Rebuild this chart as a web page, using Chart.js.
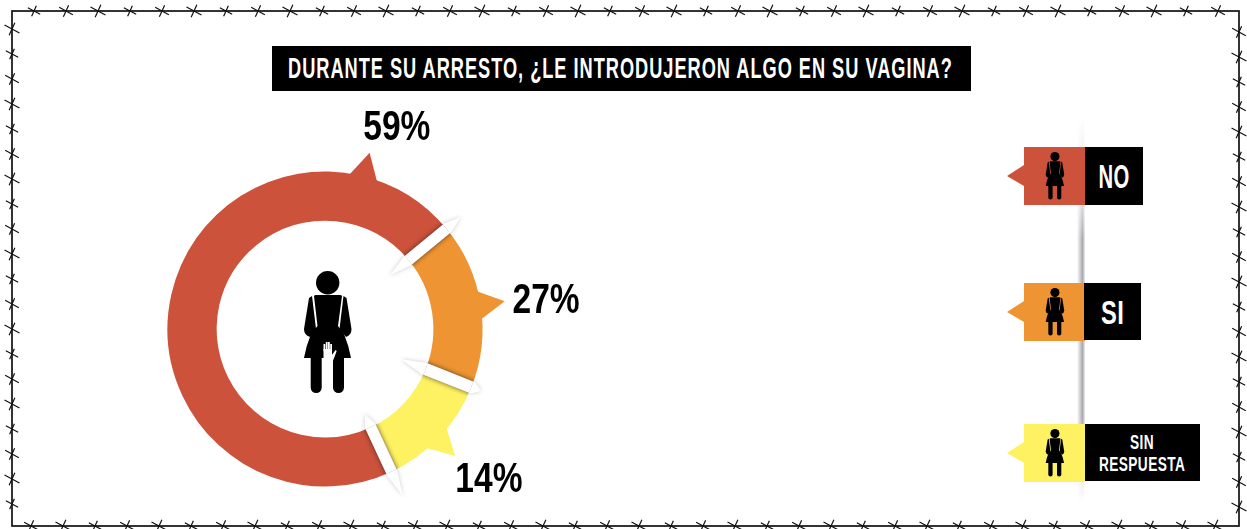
<!DOCTYPE html>
<html><head><meta charset="utf-8">
<script src="https://cdn.jsdelivr.net/npm/chart.js@4"></script>
<style>
html,body{margin:0;padding:0;background:#fff;width:1247px;height:529px;overflow:hidden}
#wrap{position:relative;width:1247px;height:529px;font-family:"Liberation Sans",sans-serif;font-weight:700}
canvas{position:absolute;left:0;top:0}
.abs{position:absolute}
#title{left:272px;top:46px;width:699px;height:45px;background:#000;color:#fff;font-size:30px;line-height:43px;text-align:center;white-space:nowrap;overflow:hidden;letter-spacing:1.6px}
#title span,.lab span{display:inline-block;white-space:nowrap}
.flag{position:absolute;left:1007px;width:78px;height:58px}
.lab{position:absolute;background:#000;color:#fff;text-align:center;display:flex;align-items:center;justify-content:center;overflow:hidden;letter-spacing:.6px}
#rule{left:1077px;top:115px;width:8px;height:388px;background:linear-gradient(to right,rgba(120,120,130,0),rgba(110,110,120,.6) 70%,rgba(190,190,195,.25));-webkit-mask-image:linear-gradient(to bottom,transparent,rgba(0,0,0,.35) 22%,#000 32%,#000 78%,rgba(0,0,0,.3) 92%,transparent)}
</style></head><body>
<div id="wrap">
<canvas id="c" width="1247" height="529"></canvas>
<div class="abs" id="title"></div>
<div class="abs" id="rule"></div>
<div class="abs" id="legend"></div>
<svg class="abs" style="left:304px;top:271px" width="48" height="123" viewBox="0 0 48 123"><use href="#woman"/>
<g fill="#fff"><rect x="19.500" y="78" width="8.500" height="15"/><rect x="19.500" y="73" width="1.800" height="7"/><rect x="21.800" y="71" width="1.800" height="8"/><rect x="24" y="71" width="1.800" height="8"/><rect x="26.200" y="73" width="1.800" height="7"/><path d="M26.500 86l5-7 1.200 1L28.500 91z"/></g></svg>
<svg width="0" height="0" style="position:absolute"><defs><g id="woman">
<circle cx="23.700" cy="11.700" r="11.700"/>
<path d="M10 25Q10.500 24 12 24H36Q37.500 24 38 25L34 55 40 63Q45 75 47 87H0Q2 75 7 63L13.500 55z"/>
<path d="M8 25L5 27 0 58Q0 64 6 66L12 58z"/><path d="M39.500 25L42.500 27 47.500 58Q47.500 64 42 66L35.500 58z"/>
<path d="M6.700 85h11v31.500a5.500 5.500 0 0 1-11 0z"/><path d="M29 85h11v31.500a5.500 5.500 0 0 1-11 0z"/>
</g></defs></svg>
</div>
<script>
// Printed percentages, as they read in the reference.
const categories = ["NO", "SI", "SIN RESPUESTA"];
const percentLabels = [59, 27, 14];
// The reference's arcs are not proportional to its printed percentages,
// so the arc sizes below are the sweep in degrees measured on the picture.
const arcDegrees = [255.5, 61.2, 43.3];
const colors = ["#CC523B", "#EE9432", "#FEF162"];
const startRotation = 155;
const pointerOffsets = [-140.8, 30.7, 22.6];  // pointer direction, degrees from the arc start
const labelOffsets = [-135.4, 32, 20.7];      // label direction, degrees from the arc start
const labelRadii = [214, 223, 222];
const legendTops = [147, 283, 424];
const legendLefts = [1085, 1084, 1085];
const labelWidths = [58, 57, 115];
const labelHeights = [58, 57, 57];
const labelFont = [34, 34, 21];
const labelTextWidths = [31, 23, 86];

const deg = Math.PI / 180;
function polar(x, y, a, r) { return [x + Math.cos(a) * r, y + Math.sin(a) * r]; }

const barbedWire = {
  id: 'barbedWire',
  beforeDraw(chart) {
    const ctx = chart.ctx, L = 12, T = 11, R = 1239, B = 526;
    ctx.save(); ctx.strokeStyle = '#111'; ctx.lineWidth = 1.7;
    ctx.strokeRect(L, T, R - L, B - T);
    ctx.lineWidth = 1.2;
    const barb = (x, y, i) => {
      const s = 0.95 + (i % 3) * 0.1;
      ctx.beginPath();
      ctx.moveTo(x - 6.5 * s, y - 3.5 * s); ctx.lineTo(x + 6.5 * s, y + 3.5 * s);
      ctx.moveTo(x - 2.5 * s, y + 5.5 * s); ctx.lineTo(x + 2.5 * s, y - 5.5 * s);
      ctx.stroke();
    };
    let i = 0;
    for (let x = L + 22; x < R - 6; x += 32) { barb(x, T, i); barb(x - 3, B, i + 1); i++; }
    for (let y = T + 18; y < B - 6; y += 25) { barb(L, y, i); barb(R, y + 3, i + 2); i++; }
    ctx.restore();
  }
};

const ringDetails = {
  id: 'ringDetails',
  afterDatasetsDraw(chart) {
    const ctx = chart.ctx, arcs = chart.getDatasetMeta(0).data;
    ctx.save();
    // pointers
    arcs.forEach((arc, i) => {
      const a = arc.startAngle + pointerOffsets[i] * deg, R = arc.outerRadius;
      const tip = polar(arc.x, arc.y, a, R * 1.155);
      const b1 = polar(arc.x, arc.y, a - 5.2 * deg, R - 1);
      const b2 = polar(arc.x, arc.y, a + 5.2 * deg, R - 1);
      ctx.fillStyle = colors[i];
      ctx.beginPath(); ctx.moveTo(b1[0], b1[1]); ctx.lineTo(tip[0], tip[1]); ctx.lineTo(b2[0], b2[1]); ctx.closePath(); ctx.fill();
    });
    // white slits: a faint shadow past the ring, a stronger one on the ring itself
    const slits = [[94, 184, 5.5], [84, 176, 5.5], [82, 168, 6]];
    const slitPath = (arc, i) => {
      const a = arc.startAngle, [r0, r1, w] = slits[i];
      const c = Math.cos(a), s = Math.sin(a);
      const pt = (r, off) => [arc.x + c * r - s * off, arc.y + s * r + c * off];
      const inR = arc.innerRadius - 2, outR = arc.outerRadius + 2;
      const outline = [pt(r0, 0), pt(inR, w), pt(outR, w), pt(r1, 0), pt(outR, -w), pt(inR, -w)];
      ctx.beginPath();
      outline.forEach((p, k) => k ? ctx.lineTo(p[0], p[1]) : ctx.moveTo(p[0], p[1]));
      ctx.closePath();
    };
    arcs.forEach((arc, i) => {
      ctx.save();
      ctx.fillStyle = '#fff';
      ctx.shadowColor = 'rgba(60,60,60,.28)'; ctx.shadowBlur = 4;
      slitPath(arc, i); ctx.fill();
      ctx.restore();
      ctx.save();
      ctx.beginPath();
      ctx.arc(arc.x, arc.y, arc.outerRadius, 0, Math.PI * 2);
      ctx.arc(arc.x, arc.y, arc.innerRadius, 0, Math.PI * 2, true);
      ctx.clip();
      ctx.fillStyle = '#fff';
      ctx.shadowColor = 'rgba(50,30,20,.6)'; ctx.shadowBlur = 5;
      slitPath(arc, i); ctx.fill();
      ctx.restore();
    });
    // percentage labels
    ctx.fillStyle = '#000';
    ctx.font = '700 43px "Liberation Sans",sans-serif';
    ctx.textAlign = 'center'; ctx.textBaseline = 'middle';
    arcs.forEach((arc, i) => {
      const p = polar(arc.x, arc.y, arc.startAngle + labelOffsets[i] * deg, labelRadii[i]);
      ctx.save();
      ctx.translate(p[0], p[1] + 1);
      ctx.scale(0.78, 1);
      ctx.fillText(percentLabels[i] + '%', 0, 0);
      ctx.restore();
    });
    ctx.restore();
  }
};

new Chart(document.getElementById('c'), {
  type: 'doughnut',
  data: { labels: categories, datasets: [{ data: arcDegrees, backgroundColor: colors, borderWidth: 0 }] },
  options: {
    responsive: false, animation: false, rotation: startRotation, cutout: '68.8%',
    layout: { padding: { left: 167.5, right: 764.5, top: 171.5, bottom: 42.5 } },
    plugins: { legend: { display: false }, tooltip: { enabled: false }, title: { display: false } }
  },
  plugins: [barbedWire, ringDetails]
});

function fitWidth(span, target) {
  const w = span.offsetWidth;
  span.style.transform = 'scaleX(' + (target / w) + ')';
}
const titleEl = document.getElementById('title');
titleEl.innerHTML = '<span style="position:absolute;left:16px;top:0;transform-origin:0 50%">DURANTE SU ARRESTO, ¿LE INTRODUJERON ALGO EN SU VAGINA?</span>';
fitWidth(titleEl.firstChild, 665);

const leg = document.getElementById('legend');
categories.forEach((name, i) => {
  const t = legendTops[i];
  const words = name.split(' ');
  const text = words.length > 1 ? words[0] + '<br>' + words.slice(1).join(' ') : name;
  leg.insertAdjacentHTML('beforeend',
    `<svg class="flag" style="top:${t}px" viewBox="0 0 78 58"><path fill="${colors[i]}" d="M17 0H78V58H17V39L0 29 17 18z"/>` +
    `<g transform="translate(38.700 5) scale(.39)"><use href="#woman"/></g></svg>` +
    `<div class="lab" style="left:${legendLefts[i]}px;top:${t}px;width:${labelWidths[i]}px;height:${labelHeights[i]}px;font-size:${labelFont[i]}px;line-height:22px"><span class="t">${text}</span></div>`);
  const sp = leg.lastChild.firstChild;
  sp.style.flex = 'none';
  fitWidth(sp, labelTextWidths[i]);
});
</script>
</body></html>
